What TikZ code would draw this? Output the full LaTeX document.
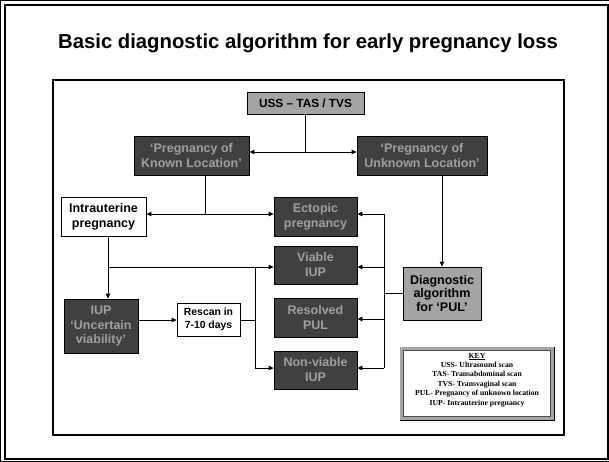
\documentclass[tikz,border=0pt]{standalone}
\usepackage{fontspec}
\setmainfont{Liberation Sans}
\newfontfamily\keyfont{Liberation Serif}
\usetikzlibrary{arrows.meta,calc}
\definecolor{boxdark}{HTML}{404040}
\definecolor{boxtext}{HTML}{A0A0A0}
\definecolor{boxgrey}{HTML}{A4A4A4}
\begin{document}
\begin{tikzpicture}[x=1pt,y=-1pt,
  base/.style={draw=black, line width=0.8pt, inner sep=0pt, align=center, font=\bfseries\fontsize{12.5}{15}\selectfont},
  dark/.style={base, fill=boxdark, text=boxtext},
  grey/.style={base, fill=boxgrey, text=black},
  white/.style={base, fill=white, text=black},
  conn/.style={line width=0.8pt, draw=black},
  arr/.style={conn, -{Triangle[length=5pt,width=4.5pt]}}]
\useasboundingbox (0,0) rectangle (609,461);
\fill[white] (0,0) rectangle (609,461);
\draw[line width=2pt] (4.5,5) rectangle (607.5,459);
\node[font=\bfseries\fontsize{20.3}{24}\selectfont, anchor=base] (title) at (308,48) {Basic diagnostic algorithm for early pregnancy loss};
\draw[line width=1.3pt] (53,80) rectangle (564,435);

\node[grey, minimum width=117pt, minimum height=22pt, font=\bfseries\fontsize{11.8}{14}\selectfont] (uss) at (305.5,103) {USS -- TAS / TVS};
\node[dark, minimum width=115pt, minimum height=39pt] (pkl) at (191.5,155.5) {‘Pregnancy of\\Known Location’};
\node[dark, minimum width=130pt, minimum height=39pt] (pul) at (422,155.5) {‘Pregnancy of\\Unknown Location’};
\node[white, minimum width=85pt, minimum height=39pt] (iu) at (103.5,216.5) {Intrauterine\\pregnancy};
\node[dark, minimum width=83pt, minimum height=39pt] (ect) at (315.5,216.5) {Ectopic\\pregnancy};
\node[dark, minimum width=83pt, minimum height=38pt] (via) at (315.5,265) {Viable\\IUP};
\node[dark, minimum width=83pt, minimum height=39pt] (res) at (315.5,317.5) {Resolved\\PUL};
\node[dark, minimum width=83pt, minimum height=38pt] (nv) at (315.5,370) {Non-viable\\IUP};
\node[grey, minimum width=78pt, minimum height=53pt, font=\bfseries\fontsize{12.5}{13.5}\selectfont] (diag) at (442,293.5) {Diagnostic\\algorithm\\for ‘PUL’};
\node[dark, minimum width=74pt, minimum height=54pt, font=\bfseries\fontsize{12.5}{14.5}\selectfont] (unc) at (101,326) {IUP\\‘Uncertain\\viability’};
\node[white, minimum width=63pt, minimum height=33pt, font=\bfseries\fontsize{10.4}{13}\selectfont] (resc) at (208.5,319.5) {Rescan in\\7-10 days};

% key box
\node[draw=black, line width=0.6pt, fill=white, minimum width=154pt, minimum height=73pt] (key) at (477,383.5) {};
\draw[draw=boxgrey, line width=2.8pt] ($(key.north west)+(2,2)$) rectangle ($(key.south east)+(-2,-2)$);
\draw[draw=black!70, line width=0.5pt] ($(key.north west)+(3.6,3.6)$) rectangle ($(key.south east)+(-3.6,-3.6)$);
\node[align=center, inner sep=0pt, font=\keyfont\bfseries\fontsize{7.7}{9.4}\selectfont] (keytext) at (477,380) {\underline{KEY}\\USS- Ultrasound scan\\TAS- Transabdominal scan\\TVS- Transvaginal scan\\PUL- Pregnancy of unknown location\\IUP- Intrauterine pregnancy};

% connectors
\coordinate (j1) at (305.5,152);
\draw[conn] (uss.south) -- (j1);
\draw[arr] (j1) -- (j1 -| pkl.east);
\draw[arr] (j1) -- (j1 -| pul.west);

\coordinate (pklb) at (205,175);
\coordinate (j2) at (205,214);
\draw[conn] (pklb) -- (j2);
\draw[arr] (j2) -- (j2 -| iu.east);
\draw[arr] (j2) -- (j2 -| ect.west);

\coordinate (iub) at (108,236);
\coordinate (j3) at (108,267);
\draw[arr] (iub) -- (iub |- unc.north);
\draw[arr] (j3) -- (j3 -| via.west);

\draw[arr] (unc.east |- 0,320) -- (resc.west |- 0,320);
\coordinate (j4) at (255,320);
\coordinate (j4a) at (255,267);
\coordinate (j4b) at (255,368);
\draw[conn] (resc.east |- j4) -- (j4);
\draw[conn] (j4a) -- (j4b);
\draw[arr] (j4b) -- (j4b -| nv.west);

\coordinate (pulb) at (442,175);
\draw[arr] (pulb) -- (diag.north);

\coordinate (j5) at (384,293.5);
\coordinate (j5a) at (384,214);
\coordinate (j5b) at (384,319);
\coordinate (j5c) at (384,267);
\coordinate (j5d) at (384,368);
\draw[conn] (diag.west) -- (j5);
\draw[conn] (j5a) -- (j5d);
\draw[arr] (j5a) -- (j5a -| ect.east);
\draw[arr] (j5c) -- (j5c -| via.east);
\draw[arr] (j5b) -- (j5b -| res.east);
\draw[arr] (j5d) -- (j5d -| nv.east);
\end{tikzpicture}
\end{document}
